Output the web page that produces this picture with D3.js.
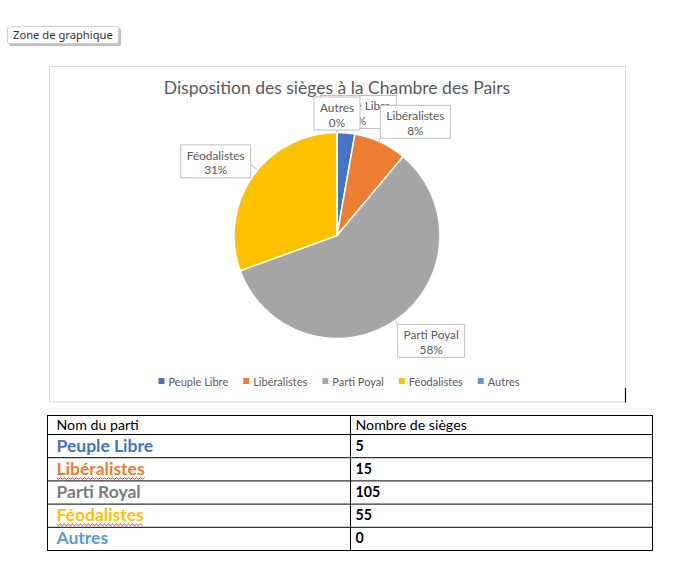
<!DOCTYPE html>
<html>
<head>
<meta charset="utf-8">
<script src="https://cdn.jsdelivr.net/npm/d3@7"></script>
<style>
  body { margin: 0; background: #fff; }
  svg { display: block; }
</style>
</head>
<body>
<div id="chart"></div>
<script>
// data
const chartTitle = "Disposition des sièges à la Chambre des Pairs"
const pieNames = ["Peuple Libre", "Libéralistes", "Parti Poyal", "Féodalistes", "Autres"]
const tableNames = ["Peuple Libre", "Libéralistes", "Parti Royal", "Féodalistes", "Autres"]
const seats = [5, 15, 105, 55, 0]
const tableHeader = ["Nom du parti", "Nombre de sièges"]
const spellFlagged = ["Libéralistes", "Féodalistes"]

const colors = ["#4472C4", "#ED7D31", "#A5A5A5", "#FFC000", "#5B9BD5"]
const nameColors = ["#4472C4", "#ED7D31", "#7B7B7B", "#FFC000", "#5B9BD5"]
// label box nudges, relative to the outer arc centroid
const labelNudge = [[10, 8], [23, 6], [19, -1], [-14, 2], [0, 10]]

const W = 686, H = 580
const svg = d3.select("#chart").append("svg")
    .attr("width", W)
    .attr("height", H)
svg.append("rect").attr("width", W).attr("height", H).attr("fill", "#fff")

const font = "Lato, Carlito, sans-serif"
const grey = "#595959"

// "Zone de graphique" tooltip
const tip = svg.append("g").attr("transform", "translate(7, 26)")
tip.append("rect").attr("x", 2).attr("y", 2).attr("width", 112).attr("height", 18).attr("rx", 2)
    .attr("fill", "#8a8a8a").attr("opacity", 0.55)
tip.append("rect").attr("x", 0.5).attr("y", 0.5).attr("width", 111).attr("height", 17).attr("rx", 2)
    .attr("fill", "#fff").attr("stroke", "#d0d0d0")
tip.append("text").attr("x", 6).attr("y", 13)
    .attr("font-family", "'Noto Sans', 'Open Sans', sans-serif")
    .attr("font-size", 11.2).attr("fill", "#333")
    .text("Zone de graphique")

// chart area
const frame = { x: 49.5, y: 66.5, w: 576, h: 335.5 }
svg.append("rect")
    .attr("x", frame.x).attr("y", frame.y)
    .attr("width", frame.w).attr("height", frame.h)
    .attr("fill", "#fff").attr("stroke", "#d9d9d9")
svg.append("line")
    .attr("x1", frame.x + frame.w).attr("x2", frame.x + frame.w)
    .attr("y1", frame.y + frame.h - 14).attr("y2", frame.y + frame.h + 0.5)
    .attr("stroke", "#000").attr("stroke-width", 1.2)

svg.append("text")
    .attr("x", 337).attr("y", 94)
    .attr("text-anchor", "middle")
    .attr("font-family", font).attr("font-weight", 400)
    .attr("font-size", 17.5).attr("fill", grey)
    .text(chartTitle)

// pie
const cx = 337, cy = 235.5, r = 103
const total = d3.sum(seats)
const pct = d3.format(".0%")
const pie = d3.pie().sort(null).value(d => d)
const arcs = pie(seats)
const arc = d3.arc().innerRadius(0).outerRadius(r)
const labelArc = d3.arc().innerRadius(r + 28).outerRadius(r + 28)

const g = svg.append("g").attr("transform", `translate(${cx}, ${cy})`)
g.selectAll("path.slice")
    .data(arcs)
    .join("path")
    .attr("class", "slice")
    .attr("d", arc)
    .attr("fill", (d, i) => colors[i])
    .attr("stroke", "#fff")
    .attr("stroke-width", 1.5)

// data labels
const leaders = g.append("g")
const labels = g.append("g")
arcs.forEach((d, i) => {
    const mid = (d.startAngle + d.endAngle) / 2
    const c = labelArc.centroid(d)
    const lx = c[0] + labelNudge[i][0], ly = c[1] + labelNudge[i][1]
    const lab = labels.append("g").attr("transform", `translate(${lx}, ${ly})`)
    const box = lab.append("rect")
    const t1 = lab.append("text").attr("text-anchor", "middle").attr("y", -2.5)
        .attr("font-family", font).attr("font-size", 11.8).attr("fill", grey)
        .text(pieNames[i])
    lab.append("text").attr("text-anchor", "middle").attr("y", 12)
        .attr("font-family", font).attr("font-size", 11.8).attr("fill", grey)
        .text(pct(seats[i] / total))
    const bw = Math.round(t1.node().getComputedTextLength() + 12), bh = 33
    box.attr("x", -bw / 2).attr("y", -bh / 2 - 1).attr("width", bw).attr("height", bh)
        .attr("fill", "#fff").attr("stroke", "#bfbfbf")

    // leader line from the box to the slice edge
    const x0 = lx - bw / 2, x1 = lx + bw / 2, y0 = ly - bh / 2 - 1, y1 = ly + bh / 2 - 1
    let ax, ay
    if (Math.abs(Math.sin(mid)) > 0.8) {
        ax = Math.sin(mid) < 0 ? x1 : x0
        ay = ly + 2
    } else {
        ax = Math.max(x0, Math.min(x1, 0))
        ay = Math.max(y0, Math.min(y1, 0))
    }
    let a = Math.atan2(ax, -ay)
    if (a < 0) a += 2 * Math.PI
    a = Math.max(d.startAngle, Math.min(d.endAngle, a))
    const ex = r * Math.sin(a), ey = -r * Math.cos(a)
    if (Math.hypot(ex - ax, ey - ay) > 3) {
        leaders.append("line")
            .attr("x1", ax).attr("y1", ay).attr("x2", ex).attr("y2", ey)
            .attr("stroke", "#bfbfbf").attr("stroke-width", 1)
    }
})

// legend
const legend = svg.append("g").attr("transform", "translate(0, 386)")
let lxPos = 0
const items = legend.selectAll("g").data(pieNames).join("g")
items.append("rect").attr("y", -8).attr("width", 6).attr("height", 6)
    .attr("fill", (d, i) => colors[i])
items.append("text").attr("x", 10)
    .attr("font-family", font).attr("font-size", 11).attr("fill", grey)
    .text(d => d)
items.each(function () {
    const w = d3.select(this).select("text").node().getComputedTextLength() + 10
    d3.select(this).attr("data-x", lxPos)
    lxPos += w + 15
})
const legendW = lxPos - 15
items.attr("transform", function () {
    return `translate(${cx + 2 - legendW / 2 + (+d3.select(this).attr("data-x"))}, 0)`
})

// table
const tX0 = 47.5, tX1 = 652.5, tDiv = 350.5
const headTop = 415.5, headBottom = 434.5
const rowY = d3.scaleBand().domain(tableNames).range([headBottom, 550.5])

const table = svg.append("g")
table.append("rect").attr("x", tX0).attr("y", headTop)
    .attr("width", tX1 - tX0).attr("height", rowY.range()[1] - headTop)
    .attr("fill", "none").attr("stroke", "#000")
table.append("line").attr("x1", tDiv).attr("x2", tDiv)
    .attr("y1", headTop).attr("y2", rowY.range()[1]).attr("stroke", "#000")
table.selectAll("line.row").data(tableNames).join("line")
    .attr("class", "row")
    .attr("x1", tX0).attr("x2", tX1)
    .attr("y1", d => rowY(d)).attr("y2", d => rowY(d))
    .attr("stroke", "#000")

table.selectAll("text.head").data(tableHeader).join("text")
    .attr("class", "head")
    .attr("x", (d, i) => i === 0 ? tX0 + 9 : tDiv + 5)
    .attr("y", headTop + 14.5)
    .attr("font-family", font).attr("font-size", 14.2).attr("fill", "#000")
    .text(d => d)

const nameText = table.selectAll("text.name").data(tableNames).join("text")
    .attr("class", "name")
    .attr("x", tX0 + 9)
    .attr("y", d => rowY(d) + 17)
    .attr("font-family", font).attr("font-weight", 700)
    .attr("font-size", 17.5)
    .attr("fill", (d, i) => nameColors[i])
    .text(d => d)

table.selectAll("text.val").data(seats).join("text")
    .attr("class", "val")
    .attr("x", tDiv + 5)
    .attr("y", (d, i) => rowY(tableNames[i]) + 16)
    .attr("font-family", font).attr("font-weight", 700)
    .attr("font-size", 14.2).attr("fill", "#000")
    .text(d => d)

// spell-check squiggles
nameText.each(function (d) {
    if (!spellFlagged.includes(d)) return
    const w = this.getComputedTextLength()
    const x = tX0 + 9, y = rowY(d) + 20.5
    const pts = d3.range(0, Math.floor(w / 2) + 1).map(k => [x + k * 2, y + (k % 2 ? 1 : -0.5)])
    table.append("path").attr("d", d3.line()(pts))
        .attr("fill", "none").attr("stroke", "#e02020").attr("stroke-width", 0.9)
})
</script>
</body>
</html>
